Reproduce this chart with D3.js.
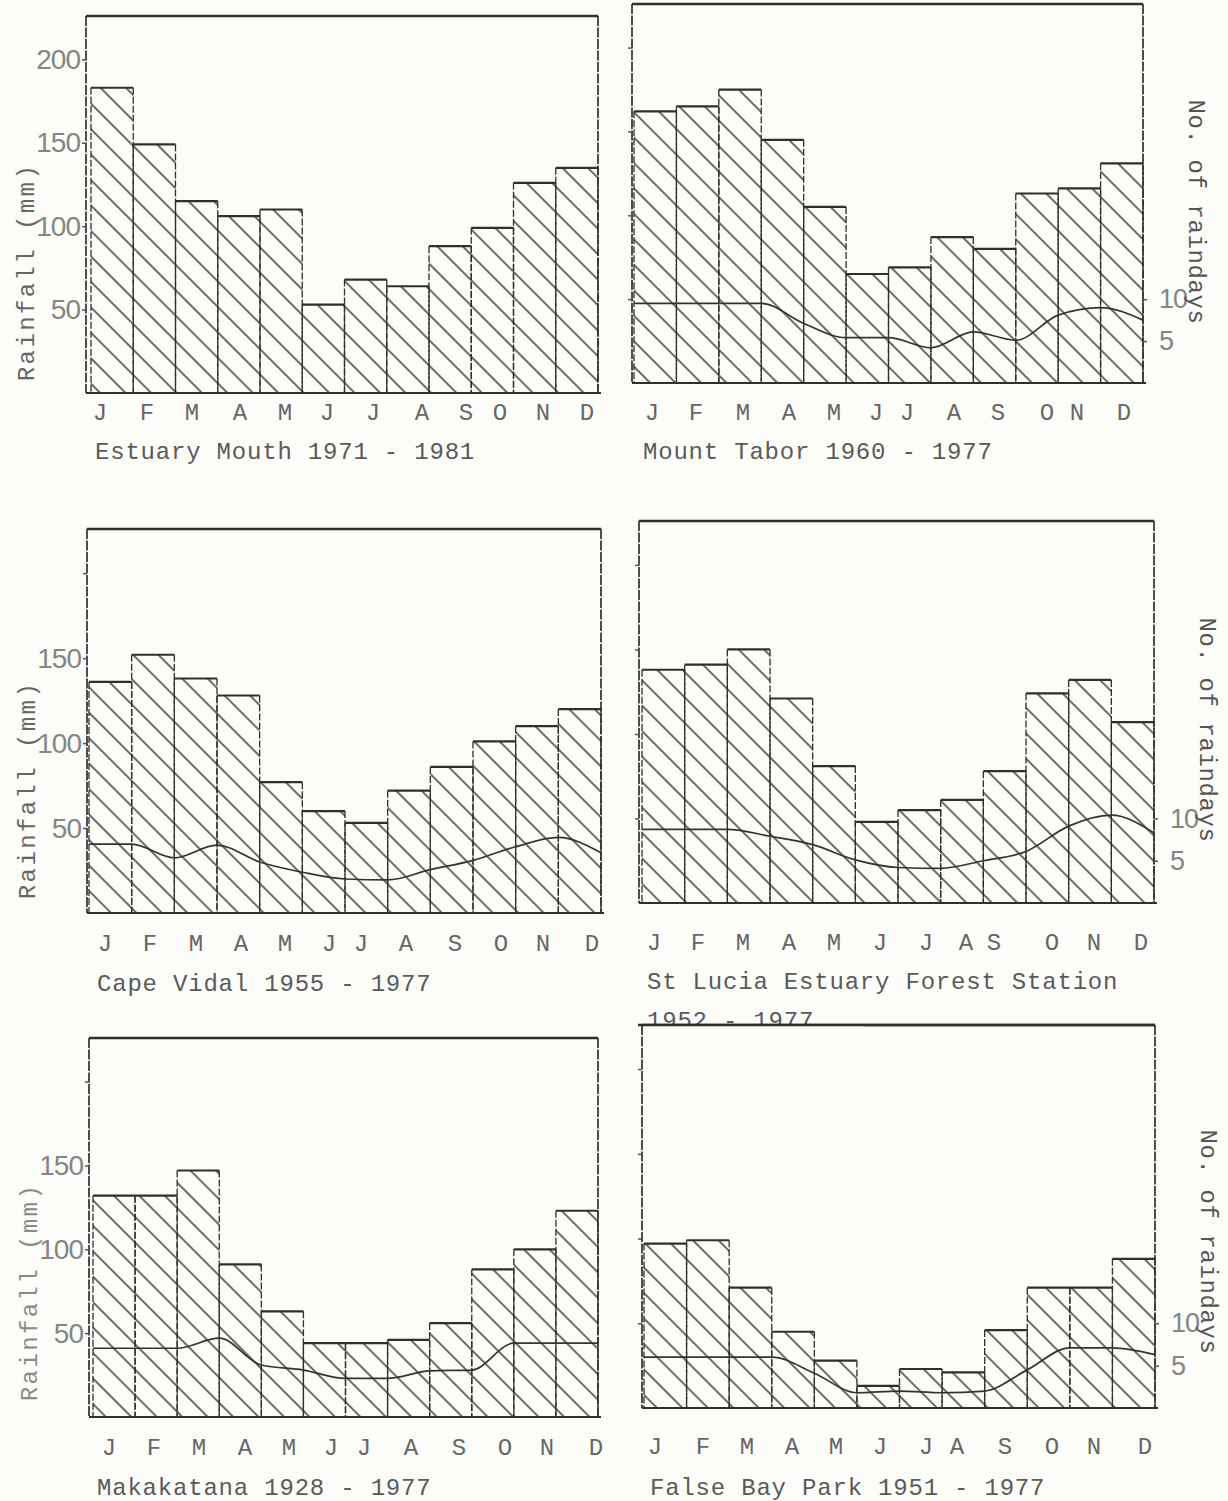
<!DOCTYPE html>
<html><head><meta charset="utf-8">
<script src="https://cdn.jsdelivr.net/npm/d3@7"></script>
<style>
body{margin:0;background:#fcfcf9;}
svg{display:block;}
</style>
</head><body>
<svg id="c" width="1228" height="1501"></svg>
<script>
// ---------------- DATA ----------------
const months = ["J","F","M","A","M","J","J","A","S","O","N","D"];
const rainTicks = [50, 100, 150, 200];
const dayTicks = [5, 10];
const rainMax = 226;              // mm at the top of each frame
const daysPerMm = 1 / 5;          // raindays axis: 10 days level with 50 mm

const titles = [
  "Estuary Mouth 1971 - 1981",
  "Mount Tabor 1960 - 1977",
  "Cape Vidal  1955 - 1977",
  "St Lucia Estuary Forest Station",
  "Makakatana 1928 - 1977",
  "False Bay Park  1951 - 1977"
];
const subtitleStLucia = "1952 - 1977";

// mean monthly rainfall (mm)
const estuaryMouthRain = [183, 149, 115, 106, 110, 53, 68, 64, 88, 99, 126, 135];
const mountTaborRain   = [162, 165, 175, 145, 105, 65, 69, 87, 80, 113, 116, 131];
const capeVidalRain    = [136, 152, 138, 128, 77, 60, 53, 72, 86, 101, 110, 120];
const stLuciaRain      = [138, 141, 150, 121, 81, 48, 55, 61, 78, 124, 132, 107];
const makakatanaRain   = [132, 132, 147, 91, 63, 44, 44, 46, 56, 88, 100, 123];
const falseBayRain     = [97, 99, 71, 45, 28, 13, 23, 21, 46, 71, 71, 88];

// mean number of raindays per month (plotted at the end of each month's bar)
const mountTaborDays = [9.5, 9.5, 9.5, 7.1, 5.4, 5.4, 4.2, 6.1, 5.1, 8.1, 9.0, 7.5];
const capeVidalDays  = [8.1, 6.5, 8.0, 6.0, 4.8, 4.0, 3.9, 5.1, 6.2, 7.8, 8.9, 7.1];
const stLuciaDays    = [8.7, 8.7, 7.9, 6.9, 5.1, 4.2, 4.1, 5.0, 6.1, 9.1, 10.4, 8.3];
const makakatanaDays = [8.2, 8.2, 9.4, 6.2, 5.6, 4.6, 4.6, 5.5, 5.6, 8.8, 8.8, 8.8];
const falseBayDays   = [6.0, 6.0, 6.0, 4.1, 1.8, 2.0, 1.8, 2.0, 4.5, 7.1, 7.1, 6.3];

const rainSeries = [estuaryMouthRain, mountTaborRain, capeVidalRain, stLuciaRain, makakatanaRain, falseBayRain];
const daySeries  = [null, mountTaborDays, capeVidalDays, stLuciaDays, makakatanaDays, falseBayDays];

// ---------------- LAYOUT ----------------
const layout = [
  {x0:86,  x1:598,  top:16,   base:393,  inset:5, my:420,  tx:95,  ty:459,  left:[50,100,150,200], right:false, ylab:272,
   mx:[100,147,192,240,285,327,373,422,466,500,543,587]},
  {x0:632, x1:1143, top:4,    base:383,  inset:2, my:420,  tx:643, ty:459,  left:[], right:true, rlab:212,
   mx:[652,696,743,789,834,876,907,954,998,1047,1077,1124]},
  {x0:87,  x1:601,  top:529,  base:913,  inset:2, my:951,  tx:97,  ty:991,  left:[50,100,150], right:false, ylab:790,
   mx:[105,150,196,241,285,329,361,406,455,501,543,592]},
  {x0:639, x1:1154, top:521,  base:903,  inset:3, my:950,  tx:647, ty:989,  left:[], right:true, rlab:730,
   mx:[654,698,743,789,834,880,926,966,994,1052,1094,1141]},
  {x0:89,  x1:598,  top:1038, base:1417, inset:4, my:1455, tx:97,  ty:1495, left:[50,100,150], right:false, ylab:1292,
   mx:[109,154,199,245,289,331,364,411,459,505,547,596]},
  {x0:642, x1:1155, top:1025, base:1408, inset:2, my:1454, tx:650, ty:1495, left:[], right:true, rlab:1242,
   mx:[655,703,747,792,836,880,926,957,1005,1052,1094,1145]}
];

const paper = "#fcfcf9";
const ink = "#2f2f2f";
const mono = "'Liberation Mono','DejaVu Sans Mono',monospace";
const sans = "'Liberation Sans','DejaVu Sans',sans-serif";

const svg = d3.select("#c");
svg.append("rect").attr("width",1228).attr("height",1501).attr("fill",paper);
const defs = svg.append("defs");
const pat = defs.append("pattern").attr("id","hatch")
  .attr("patternUnits","userSpaceOnUse").attr("width",18).attr("height",18)
  .attr("patternTransform","rotate(-45)");
pat.append("line").attr("x1",9).attr("x2",9).attr("y1",-2).attr("y2",20)
  .attr("stroke","#262626").attr("stroke-width",1.35);

layout.forEach((p, k) => {
  const rain = rainSeries[k], days = daySeries[k];
  const g = svg.append("g");
  const x = d3.scaleBand().domain(d3.range(12)).range([p.x0 + p.inset, p.x1]);
  const y = d3.scaleLinear().domain([0, rainMax]).range([p.base, p.top]);
  const yD = d3.scaleLinear().domain([0, rainMax * daysPerMm]).range([p.base, p.top]);
  const bw = x.bandwidth();

  // hatched bars
  g.selectAll("rect.bar").data(rain).join("rect")
    .attr("x",(d,i)=>x(i)).attr("y",d=>y(d))
    .attr("width",bw).attr("height",d=>y(0)-y(d))
    .attr("fill","url(#hatch)");
  // bar tops (solid)
  g.selectAll("line.top").data(rain).join("line")
    .attr("x1",(d,i)=>x(i)).attr("x2",(d,i)=>x(i)+bw)
    .attr("y1",d=>y(d)).attr("y2",d=>y(d))
    .attr("stroke",ink).attr("stroke-width",2.2);
  // bar sides (dashed, typewriter-like)
  const sides = [];
  rain.forEach((d,i)=>{ sides.push({x:x(i), v:d}); sides.push({x:x(i)+bw, v:d}); });
  g.selectAll("line.side").data(sides).join("line")
    .attr("x1",d=>d.x).attr("x2",d=>d.x)
    .attr("y1",d=>y(d.v)).attr("y2",y(0))
    .attr("stroke",ink).attr("stroke-width",1.3).attr("stroke-dasharray","7,2");

  // raindays line: value of each month plotted at the right edge of its bar
  if (days) {
    const pts = [[p.x0 + p.inset, days[0]]]
      .concat(days.map((d,i)=>[x(i)+bw, d]));
    g.append("path").datum(pts)
      .attr("d", d3.line().x(d=>d[0]).y(d=>yD(d[1])).curve(d3.curveMonotoneX))
      .attr("fill","none").attr("stroke","#333").attr("stroke-width",1.7);
  }

  // frame
  g.append("line").attr("x1",p.x0).attr("x2",p.x1).attr("y1",p.top).attr("y2",p.top)
    .attr("stroke",ink).attr("stroke-width",2.6);
  g.append("line").attr("x1",p.x0).attr("x2",p.x1+3).attr("y1",p.base).attr("y2",p.base)
    .attr("stroke",ink).attr("stroke-width",2.2);
  [p.x0, p.x1].forEach(xx => g.append("line").attr("x1",xx).attr("x2",xx)
    .attr("y1",p.top).attr("y2",p.base)
    .attr("stroke",ink).attr("stroke-width",1.7).attr("stroke-dasharray","10,1.5"));

  // left axis: small ticks, labels only in the left column
  const showLab = p.left.length > 0;
  const ax = d3.axisLeft(y).tickValues(rainTicks).tickSize(4)
    .tickFormat(d => (showLab && p.left.includes(d)) ? d : "");
  const ga = g.append("g").attr("transform",`translate(${p.x0},0)`).call(ax);
  ga.select(".domain").remove();
  ga.selectAll(".tick line").attr("stroke","#555").attr("stroke-width",1.5);
  ga.selectAll(".tick text").attr("x",-6).attr("fill","#858585")
    .attr("font-family",sans).attr("font-size",28).attr("letter-spacing",-1);

  if (showLab) {
    g.append("text").attr("transform",`translate(${p.x0-58},${p.ylab}) rotate(-90)`)
      .attr("text-anchor","middle").attr("dominant-baseline","middle")
      .attr("font-family",mono).attr("font-size",24).attr("letter-spacing",2.4)
      .attr("fill", k === 4 ? "#8a8a8a" : "#666").text("Rainfall (mm)");
  }

  if (p.right) {
    const ar = d3.axisRight(yD).tickValues(dayTicks).tickSize(4);
    const gr = g.append("g").attr("transform",`translate(${p.x1},0)`).call(ar);
    gr.select(".domain").remove();
    gr.selectAll(".tick line").attr("stroke","#555").attr("stroke-width",1.5);
    gr.selectAll(".tick text").attr("x",16).attr("fill","#858585")
      .attr("font-family",sans).attr("font-size",27).attr("letter-spacing",-1);
    g.append("text").attr("transform",`translate(${p.x1+52},${p.rlab}) rotate(90)`)
      .attr("text-anchor","middle").attr("dominant-baseline","middle")
      .attr("font-family",mono).attr("font-size",24).attr("letter-spacing",0.6)
      .attr("fill","#555").text("No. of raindays");
  }

  // month labels
  g.selectAll("text.m").data(months).join("text")
    .attr("x",(d,i)=>p.mx[i]).attr("y",p.my).attr("text-anchor","middle")
    .attr("font-family",mono).attr("font-size",24).attr("fill","#666").text(d=>d);

  // title
  g.append("text").attr("x",p.tx).attr("y",p.ty)
    .attr("font-family",mono).attr("font-size",24).attr("letter-spacing",0.8)
    .attr("fill","#5a5a5a").text(titles[k]);
  if (k === 3) {
    g.append("text").attr("x",p.tx).attr("y",1028)
      .attr("font-family",mono).attr("font-size",24).attr("letter-spacing",0.8)
      .attr("fill","#5a5a5a").text(subtitleStLucia);
  }
});
// the False Bay frame top cuts through the foot of the St Lucia subtitle
const fb = layout[5];
svg.append("rect").attr("x",fb.x0+2).attr("y",fb.top).attr("width",220).attr("height",6)
  .attr("fill",paper);
svg.append("line").attr("x1",fb.x0-4).attr("x2",fb.x1).attr("y1",fb.top).attr("y2",fb.top)
  .attr("stroke",ink).attr("stroke-width",2.6);
</script>
</body></html>
